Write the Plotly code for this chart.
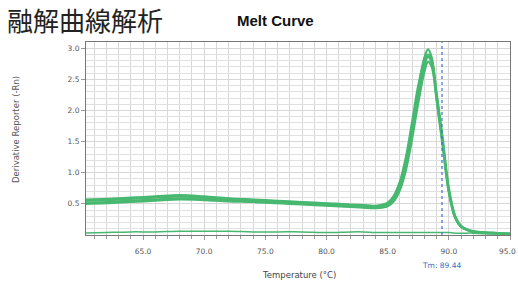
import plotly.graph_objects as go

temps = [60.3, 62, 64, 66, 68, 70, 72, 74, 76, 78, 80, 82, 83, 84, 85, 85.5, 86, 86.5, 87, 87.5,
         88, 88.3, 88.6, 89, 89.5, 90, 90.5, 91, 91.5, 92, 93, 94, 95]

rep1 = [0.55, 0.56, 0.58, 0.60, 0.62, 0.60, 0.58, 0.56, 0.54, 0.52, 0.50, 0.48, 0.47, 0.46, 0.50, 0.60,
        0.82, 1.20, 1.75, 2.35, 2.85, 2.98, 2.85, 2.25, 1.50, 0.72, 0.30, 0.14, 0.09, 0.06, 0.04, 0.03, 0.02]
rep2 = [0.52, 0.53, 0.55, 0.57, 0.59, 0.58, 0.56, 0.54, 0.52, 0.50, 0.48, 0.46, 0.45, 0.44, 0.47, 0.56,
        0.76, 1.10, 1.62, 2.22, 2.72, 2.86, 2.76, 2.20, 1.46, 0.70, 0.29, 0.13, 0.08, 0.05, 0.04, 0.03, 0.02]
rep3 = [0.57, 0.58, 0.60, 0.62, 0.64, 0.62, 0.59, 0.57, 0.55, 0.53, 0.51, 0.49, 0.48, 0.47, 0.52, 0.63,
        0.86, 1.26, 1.82, 2.40, 2.80, 2.90, 2.80, 2.28, 1.55, 0.76, 0.32, 0.15, 0.09, 0.06, 0.04, 0.03, 0.02]
rep4 = [0.50, 0.51, 0.53, 0.55, 0.57, 0.56, 0.54, 0.53, 0.51, 0.49, 0.47, 0.45, 0.44, 0.43, 0.46, 0.54,
        0.72, 1.05, 1.55, 2.12, 2.62, 2.78, 2.70, 2.16, 1.42, 0.68, 0.28, 0.13, 0.08, 0.05, 0.03, 0.02, 0.02]
ntc = [0.03, 0.04, 0.05, 0.05, 0.06, 0.06, 0.06, 0.05, 0.05, 0.05, 0.04, 0.05, 0.05, 0.04, 0.04, 0.04,
       0.04, 0.04, 0.04, 0.04, 0.04, 0.04, 0.04, 0.04, 0.04, 0.04, 0.03, 0.03, 0.03, 0.03, 0.02, 0.02, 0.02]

tm_value = 89.44
x_ticks = [65, 70, 75, 80, 85, 90, 95]
x_tick_labels = ["65.0", "70.0", "75.0", "80.0", "85.0", "90.0", "95.0"]
y_ticks = [0.5, 1.0, 1.5, 2.0, 2.5, 3.0]
y_tick_labels = ["0.5", "1.0", "1.5", "2.0", "2.5", "3.0"]

W, H = 518, 285
L, R, T, B = 86, 8, 42, 50
pw, ph = W - L - R, H - T - B


def px(xp):
    return (xp - L) / pw


def py(yp):
    return (H - B - yp) / ph


green = "rgb(72,184,112)"
fig = go.Figure()
for s in [rep1, rep2, rep3, rep4]:
    fig.add_trace(go.Scatter(x=temps, y=s, mode="lines", line=dict(color=green, width=2.2, shape="spline"),
                             showlegend=False, hoverinfo="skip"))
fig.add_trace(go.Scatter(x=temps, y=ntc, mode="lines", line=dict(color=green, width=1.5, shape="spline"),
                         showlegend=False, hoverinfo="skip"))

fig.add_shape(type="line", x0=tm_value, x1=tm_value, y0=0, y1=1, yref="paper",
              line=dict(color="rgb(60,110,210)", width=1.2, dash="dot"))

fig.add_annotation(x=tm_value, y=py(265), yref="paper", text=f"Tm: {tm_value:.2f}", showarrow=False,
                   yanchor="middle", font=dict(family="DejaVu Sans", size=7.5, color="rgb(60,110,200)"))

# last x tick label sits at the right edge of the figure
fig.add_annotation(x=px(518), y=py(251), xref="paper", yref="paper", xanchor="right", yanchor="middle",
                   text=x_tick_labels[-1], showarrow=False,
                   font=dict(family="DejaVu Sans", size=7.5, color="#555"))

fig.add_annotation(x=px(299), y=py(275), xref="paper", yref="paper", yanchor="middle",
                   text="Temperature (°C)", showarrow=False,
                   font=dict(family="DejaVu Sans", size=8.5, color="#444"))

fig.add_annotation(x=px(16), y=py(130), xref="paper", yref="paper", xanchor="center", yanchor="middle",
                   text="Derivative Reporter (-Rn)", textangle=-90, showarrow=False,
                   font=dict(family="DejaVu Sans", size=8.5, color="#555"))

fig.add_annotation(x=px(5), y=py(-1), xref="paper", yref="paper", xanchor="left", yanchor="top",
                   text="融解曲線解析", showarrow=False,
                   font=dict(family="Noto Sans CJK JP", size=26, color="#222"))

fig.add_annotation(x=px(275), y=py(20), xref="paper", yref="paper", xanchor="center", yanchor="middle",
                   text="<b>Melt Curve</b>", showarrow=False,
                   font=dict(family="Liberation Sans", size=15, color="#111"))

fig.update_layout(
    width=W, height=H,
    margin=dict(l=L, r=R, t=T, b=B),
    paper_bgcolor="white", plot_bgcolor="white",
    font=dict(family="DejaVu Sans", size=7.5, color="#555"),
)
fig.update_xaxes(range=[60.34, 95], tickvals=x_ticks, ticktext=x_tick_labels[:-1] + [""],
                 showgrid=True, gridcolor="rgb(215,215,215)", gridwidth=1, automargin=False,
                 minor=dict(dtick=1, showgrid=True, gridcolor="rgb(215,215,215)", ticks="outside", ticklen=3,
                            tickcolor="#999"),
                 ticks="outside", ticklen=4, tickcolor="#999", ticklabelstandoff=5,
                 showline=True, linecolor="#777", linewidth=1, mirror=True, zeroline=False)
fig.update_yaxes(range=[0, 3.1], tickvals=y_ticks, ticktext=y_tick_labels,
                 showgrid=True, gridcolor="rgb(215,215,215)", gridwidth=1, automargin=False,
                 minor=dict(dtick=0.1, showgrid=True, gridcolor="rgb(225,225,225)"),
                 ticks="outside", ticklen=4, tickcolor="#999",
                 showline=True, linecolor="#777", linewidth=1, mirror=True, zeroline=False)

fig.write_html("out.html", config={"displayModeBar": False},
               post_script="document.body.style.margin='0';document.body.style.overflow='hidden';")
